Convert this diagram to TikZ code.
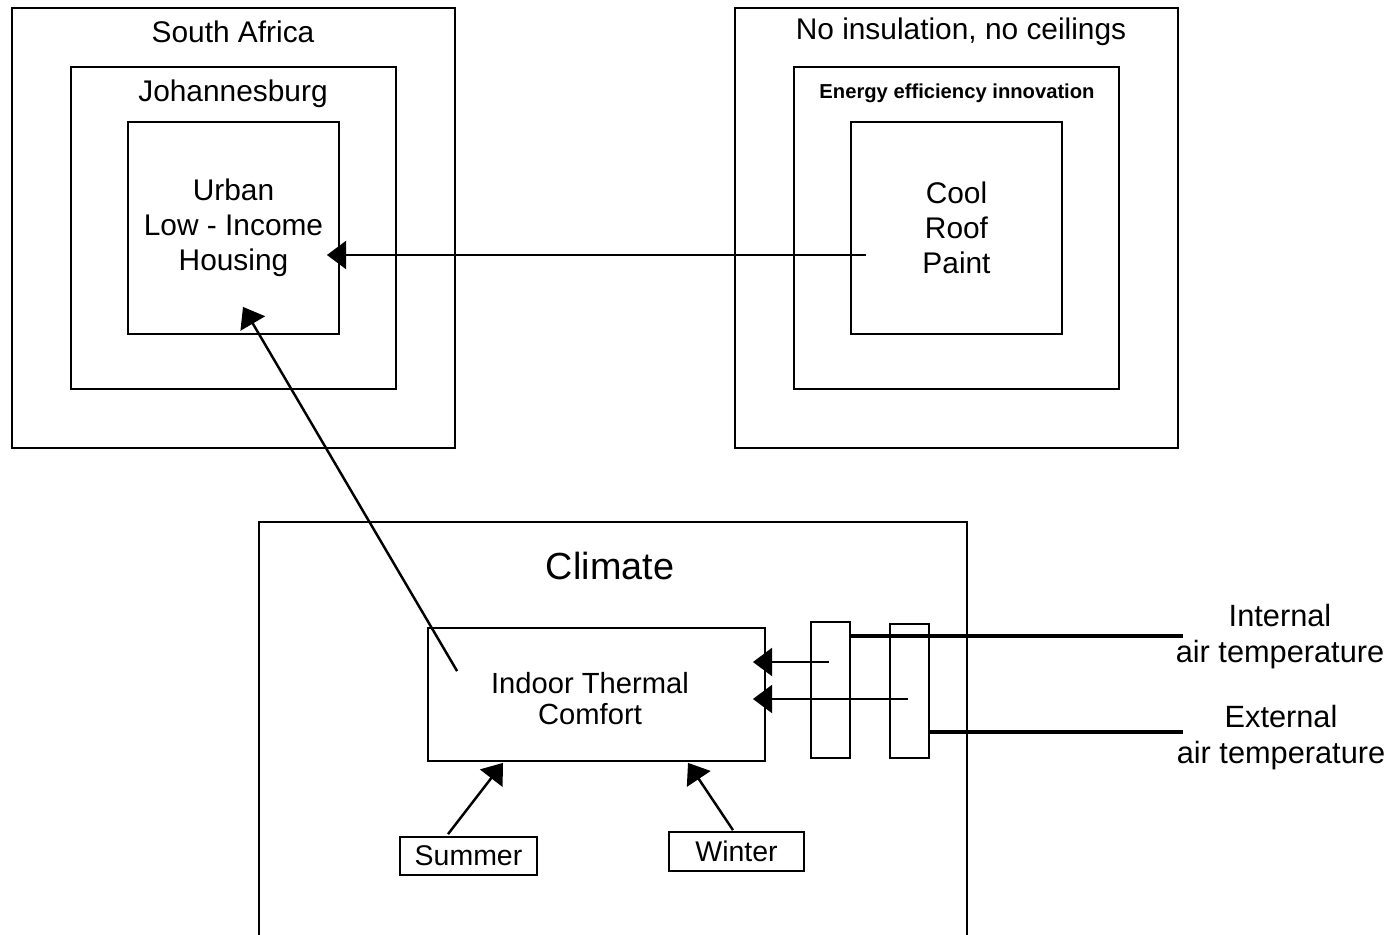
\documentclass[tikz,border=0pt]{standalone}
\usepackage{fontspec}
\setmainfont{Liberation Sans}
\usetikzlibrary{arrows.meta,calc}

\tikzset{
  box/.style 2 args={draw, line width=1pt, inner sep=0pt,
    minimum width=#1*0.02cm, minimum height=#2*0.02cm, align=center},
  frame/.style={draw, line width=1pt},
  txt/.style={font=\fontsize{17}{20}\selectfont, align=center, inner sep=0pt},
  arr/.style={line width=1.4pt, -{Triangle[length=11pt,width=16pt]}},
  feed/.style={line width=2pt}
}

\begin{document}
\begin{tikzpicture}[x=0.02cm, y=-0.02cm]
  \useasboundingbox (0,0) rectangle (1398,935);

  % left nest
  \node[box={443}{440}] (sa) at (233.5,228) {};
  \node[box={325}{322}] (jhb) at (233.5,228) {};
  \node[box={211}{212}, txt] (urban) at (233.5,228) {Urban\\Low - Income\\Housing};
  \node[txt] (salabel) at (233,32) {South Africa};
  \node[txt] (jhblabel) at (233,94) {Johannesburg};

  % right nest
  \node[box={443}{440}] (noins) at (956.5,228) {};
  \node[box={325}{322}] (energy) at (956.5,228) {};
  \node[box={211}{212}, txt] (cool) at (956.5,228) {Cool\\Roof\\Paint};
  \node[txt] (noinslabel) at (961,32) {No insulation, no ceilings};
  \node[font=\fontsize{11.5}{13}\selectfont\bfseries, inner sep=0pt] (energylabel) at (957,93) {Energy efficiency innovation};

  % climate
  \draw[frame] (259,935) |- (967,522) -- (967,935);
  \node[font=\fontsize{21.5}{25}\selectfont, inner sep=0pt] (climlabel) at (610,566) {Climate};
  \node[box={337}{133}] (indoor) at (596.5,694.5) {};
  \node[font=\fontsize{16.6}{17.6}\selectfont, align=center, inner sep=0pt] (indoorlabel) at (590,699) {Indoor Thermal\\Comfort};
  \node[box={39}{136}] (bar1) at (830.5,690) {};
  \node[box={39}{134}] (bar2) at (909.5,691) {};
  \node[box={137}{38}, font=\fontsize{16.2}{18}\selectfont] (summer) at (468.5,856) {Summer};
  \node[box={135}{39}, font=\fontsize{16.2}{18}\selectfont] (winter) at (736.5,851.5) {Winter};

  \node[txt, font=\fontsize{17.5}{20.5}\selectfont] (internal) at (1280,637) {Internal\\air temperature};
  \node[txt, font=\fontsize{17.5}{20.5}\selectfont] (external) at (1281,738) {External\\air temperature};
  \coordinate (intend) at (1183,636);
  \coordinate (extend) at (1183,732);

  % connectors
  \draw[arr] ($(cool.west)+(16,27)$) -- ($(urban.east)+(-13,27)$);
  \draw[arr] ($(indoor.north west)+(30,44)$) -- ($(urban.south)+(9.5,-28)$);
  \coordinate (tin) at ($(bar1.center)+(-1.5,-28)$);
  \coordinate (tex) at ($(bar2.center)+(-1.5,8)$);
  \draw[arr] (tin) -- ($(tin -| indoor.east)+(-13,0)$);
  \draw[arr] (tex) -- ($(tex -| indoor.east)+(-13,0)$);
  \draw[arr] ($(summer.north)+(-20.5,-2)$) -- ($(indoor.south)+(-93.5,1)$);
  \draw[arr] ($(winter.north)+(-3.5,-1)$) -- ($(indoor.south)+(91.5,1)$);
  \draw[feed] (intend -| bar1.east) -- (intend);
  \draw[feed] (extend -| bar2.east) -- (extend);
\end{tikzpicture}
\end{document}
